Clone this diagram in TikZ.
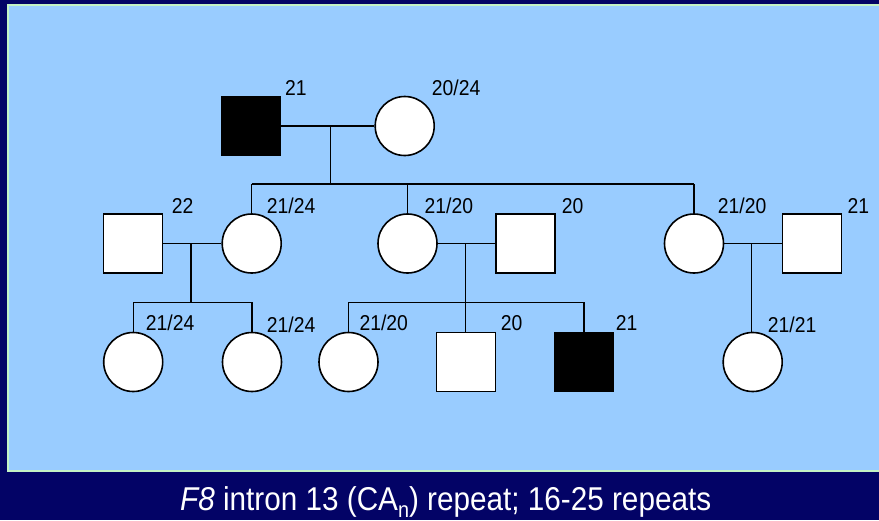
\documentclass[tikz,border=0pt]{standalone}
\usepackage{fontspec}
\setmainfont{Liberation Sans}[FakeStretch=0.9]
\definecolor{navy}{HTML}{030366}
\definecolor{panelblue}{HTML}{99CCFF}
\definecolor{panelrim}{HTML}{C4F2C4}
\begin{document}
\begin{tikzpicture}[x=1pt,y=-1pt,
  male/.style={draw=black,line width=1.3pt,fill=white,minimum size=59pt,inner sep=0pt,shape=rectangle},
  female/.style={draw=black,line width=1.6pt,fill=white,minimum size=59pt,inner sep=0pt,shape=circle},
  affected/.style={fill=black},
  geno/.style={anchor=base west,inner sep=0pt,font=\fontsize{21.5}{21.5}\selectfont},
  link/.style={draw=black,line width=1.2pt}]
  % background and panel
  \useasboundingbox (0,0) rectangle (879,520);
  \fill[navy] (0,0) rectangle (879,520);
  \fill[panelrim] (7,4) rectangle (879,472);
  \fill[panelblue] (9,6) rectangle (879,469.5);

  % generation I
  \node[male,affected] (gIm) at (251,126) {};
  \node[female] (gIf) at (404.7,126) {};
  \node[geno] (lIm) at (285,95) {21};
  \node[geno] (lIf) at (431.7,95) {20/24};

  % generation II
  \node[male] (gIIa) at (132.8,243.5) {};
  \node[female] (gIIb) at (251.7,243.5) {};
  \node[female] (gIIc) at (407.5,243.5) {};
  \node[male] (gIId) at (525.5,243.5) {};
  \node[female] (gIIe) at (694,243.5) {};
  \node[male] (gIIf) at (811.8,243.5) {};
  \node[geno] (lIIa) at (171.7,213) {22};
  \node[geno] (lIIb) at (266.7,213) {21/24};
  \node[geno] (lIIc) at (424.5,213) {21/20};
  \node[geno] (lIId) at (561.7,213) {20};
  \node[geno] (lIIe) at (717.7,213) {21/20};
  \node[geno] (lIIf) at (847.3,213) {21};

  % generation III
  \node[female] (gIIIa) at (133.2,362) {};
  \node[female] (gIIIb) at (252,362) {};
  \node[female] (gIIIc) at (348.5,362) {};
  \node[male] (gIIId) at (465.7,362) {};
  \node[male,affected] (gIIIe) at (584,362) {};
  \node[female] (gIIIf) at (752.7,362) {};
  \node[geno] (lIIIa) at (145.7,330) {21/24};
  \node[geno] (lIIIb) at (266.7,332) {21/24};
  \node[geno] (lIIIc) at (359.3,330) {21/20};
  \node[geno] (lIIId) at (500.7,330) {20};
  \node[geno] (lIIIe) at (615.7,330) {21};
  \node[geno] (lIIIf) at (767.7,332) {21/21};

  % junction points of the mating and sibship lines
  \coordinate (mI) at (330.3,126);
  \coordinate (sI) at (330.3,184);
  \coordinate (sIl) at (251.7,184);
  \coordinate (sIm) at (407.5,184);
  \coordinate (sIr) at (694,184);
  \coordinate (mIIa) at (191,243.5);
  \coordinate (sIIa) at (191,302.3);
  \coordinate (sIIal) at (133.2,302.3);
  \coordinate (sIIar) at (252,302.3);
  \coordinate (mIIb) at (465.7,243.5);
  \coordinate (sIIb) at (465.7,302.3);
  \coordinate (sIIbl) at (348.5,302.3);
  \coordinate (sIIbr) at (584,302.3);
  \coordinate (mIIc) at (751.7,243.5);
  \coordinate (cIIIf) at (751.7,332.5);

  % generation I family
  \draw[link] (gIm.east) -- (gIf.west);
  \draw[link] (mI) -- (sI);
  \draw[link] (sIl) -- (sIr);
  \draw[link] (sIl) -- (gIIb.north);
  \draw[link] (sIm) -- (gIIc.north);
  \draw[link] (sIr) -- (gIIe.north);

  % left family of generation II
  \draw[link] (gIIa.east) -- (gIIb.west);
  \draw[link] (mIIa) -- (sIIa);
  \draw[link] (sIIal) -- (sIIar);
  \draw[link] (sIIal) -- (gIIIa.north);
  \draw[link] (sIIar) -- (gIIIb.north);

  % middle family of generation II
  \draw[link] (gIIc.east) -- (gIId.west);
  \draw[link] (mIIb) -- (gIIId.north);
  \draw[link] (sIIbl) -- (sIIbr);
  \draw[link] (sIIbl) -- (gIIIc.north);
  \draw[link] (sIIbr) -- (gIIIe.north);

  % right family of generation II
  \draw[link] (gIIe.east) -- (gIIf.west);
  \draw[link] (mIIc) -- (cIIIf);

  % caption
  \node[anchor=base,inner sep=0pt,text=white,font=\fontsize{33}{33}\selectfont] (cap) at (445.7,510)
    {\textit{F8} intron 13 (CA\raisebox{-7pt}{\fontsize{22}{22}\selectfont n}) repeat; 16-25 repeats};
\end{tikzpicture}
\end{document}
